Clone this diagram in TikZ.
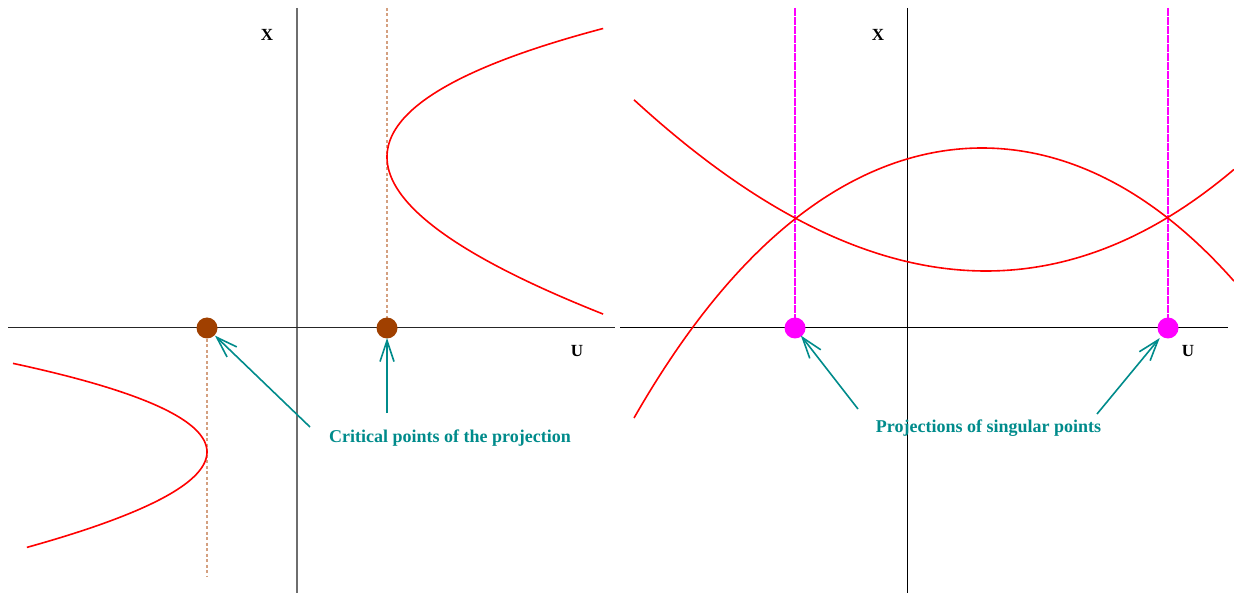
\documentclass[tikz,border=0pt]{standalone}
\usepackage{fontspec}
\setmainfont{Liberation Serif}
\usetikzlibrary{arrows.meta}
\definecolor{curvered}{RGB}{255,0,0}
\definecolor{dotbrown}{RGB}{160,64,0}
\definecolor{dottan}{RGB}{212,160,128}
\definecolor{labteal}{RGB}{0,139,139}
\definecolor{axgray}{RGB}{110,110,110}
\definecolor{singmag}{RGB}{255,0,255}
\tikzset{
  curve/.style={draw=curvered, line width=1.6pt},
  axis/.style={draw=black, line width=1pt},
  critdot/.style={circle, fill=dotbrown, minimum size=21pt, inner sep=0pt},
  singdot/.style={circle, fill=singmag, minimum size=21pt, inner sep=0pt},
  critline/.style={draw=dottan, line width=1.5pt, dash pattern=on 3pt off 2.5pt},
  singline/.style={draw=singmag, line width=1.1pt, dash pattern=on 8pt off 1pt},
  pointer/.style={draw=labteal, line width=1.6pt, -{Straight Barb[length=21pt,width=14pt,line width=1.6pt]}},
  axlabel/.style={font=\bfseries\fontsize{17}{20}\selectfont, anchor=base, inner sep=0pt},
  note/.style={font=\bfseries\fontsize{18}{20}\selectfont, text=labteal, anchor=base, inner sep=0pt}
}
\begin{document}
\begin{tikzpicture}[x=1pt,y=-1pt]
\useasboundingbox (0,0) rectangle (1234,593);
% ---------- left panel ----------
\draw[axis, draw=axgray, line width=1.3pt] (297,8) -- (297,593);
\draw[axis, draw=black!85] (8,328) -- (615,328);
\draw[critline] (387,8) -- (387,328);
\draw[critline] (207,328) -- (207,577);
\draw[curve] plot[domain=-14.28:14.28, samples=120, variable=\t]
  ({387 + 1.06*\t*\t}, {157 + 10*\t + 0.07*\t*\t});
\draw[curve] plot[domain=-9.39:9.05, samples=100, variable=\t]
  ({207 - 2.2*\t*\t}, {452 + 10*\t + 0.06*\t*\t});
\node[critdot] (c1) at (207,328) {};
\node[critdot] (c2) at (387,328) {};
\node[axlabel] (xl) at (267,41) {X};
\node[axlabel] (ul) at (577,357) {U};
\node[note] (crit) at (450,442) {Critical points of the projection};
\coordinate (t1) at (310,427);
\coordinate (t2) at (387,413);
\draw[pointer, shorten >=11pt] (t1) -- (c1.center);
\draw[pointer, shorten >=10pt] (t2) -- (c2.center);
% ---------- right panel ----------
\draw[axis] (907,8) -- (907,593);
\draw[axis] (620,328) -- (1228,328);
\draw[singline] (795,8) -- (795,328);
\draw[singline] (1168,8) -- (1168,328);
\draw[curve] plot[domain=634:1234, samples=150, variable=\x]
  ({\x}, {271 - 15.40*((\x-986)/100)^2 - 0.45*((\x-986)/100)^3});
\draw[curve] plot[domain=634:1234, samples=150, variable=\x]
  ({\x}, {148 + 19.496*((\x-982)/100)^2 + 0.231*((\x-982)/100)^4});
\node[singdot] (s1) at (795,328) {};
\node[singdot] (s2) at (1168,328) {};
\node[axlabel] (xr) at (878,41) {X};
\node[axlabel] (ur) at (1188,357) {U};
\node[note] (sing) at (988.5,432) {Projections of singular points};
\coordinate (t3) at (858,409);
\coordinate (t4) at (1097,414);
\draw[pointer, shorten >=9.5pt] (t3) -- (s1.center);
\draw[pointer, shorten >=13pt] (t4) -- (s2.center);
\end{tikzpicture}
\end{document}
